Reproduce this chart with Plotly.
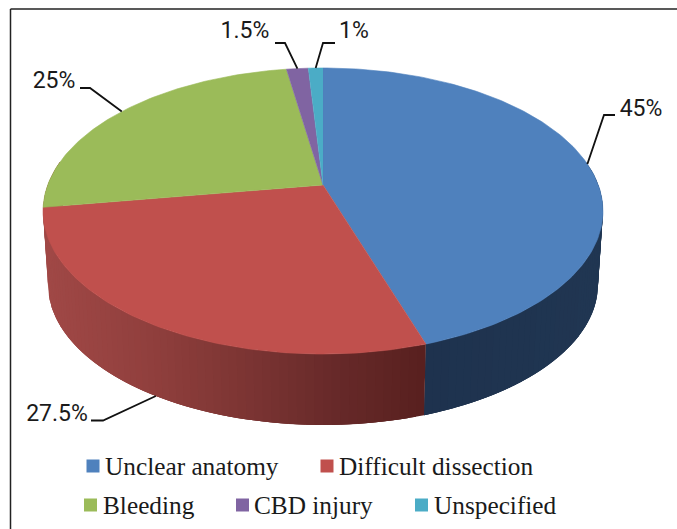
import math
import plotly.graph_objects as go

categories = ["Unclear anatomy", "Difficult dissection", "Bleeding", "CBD injury", "Unspecified"]
values = [45, 27.5, 25, 1.5, 1]
value_labels = ["45%", "27.5%", "25%", "1.5%", "1%"]
top_colors = ["#4f81bd", "#c0504d", "#9bbb59", "#8064a2", "#4bacc6"]

W, H = 677, 529
CX, APEX_Y, R, A, C = 323.0, 185.0, 275.3, 138.3, -0.1818
BASE_Y, BASE_SCALE = 259.0, 0.982


def project(deg, base=False):
    t = math.radians(deg)
    u, v = math.sin(t), -math.cos(t)
    den = 1 + C * v
    x, y = R * u / den, A * v / den
    if base:
        return CX + BASE_SCALE * x, BASE_Y + BASE_SCALE * y
    return CX + x, APEX_Y + y


def lerp_hex(stops, f):
    f = max(0.0, min(1.0, f)) * (len(stops) - 1)
    i = min(int(f), len(stops) - 2)
    g = f - i
    a, b = stops[i], stops[i + 1]
    return "rgb(%d,%d,%d)" % tuple(round(a[k] + (b[k] - a[k]) * g) for k in range(3))


def arange(a, b, step=1.0):
    n = max(2, int(abs(b - a) / step) + 1)
    return [a + (b - a) * i / (n - 1) for i in range(n)]


fig = go.Figure()


def poly(xs, ys, color, lw=0.6):
    fig.add_trace(go.Scatter(x=xs, y=ys, mode="lines", fill="toself", fillcolor=color,
                             line=dict(color=color, width=lw), hoverinfo="skip", showlegend=False))


# cumulative angles
edges = [0.0]
for val in values:
    edges.append(edges[-1] + val * 360.0 / sum(values))

# side walls: each strip overlaps the next one, which paints over it, so no seams show
red_stops = [(160, 72, 70), (146, 64, 62), (126, 54, 52), (104, 42, 42), (88, 32, 31)]
blue_stops = [(30, 50, 78), (31, 52, 80), (32, 54, 82)]
for i, (s0, s1) in enumerate(zip(edges[:-1], edges[1:])):
    lo, hi = max(s0, 80.0), min(s1, 280.0)
    if hi <= lo:
        continue
    angs = arange(lo, hi, 1.5)
    for a0, a1 in zip(angs[:-1], angs[1:]):
        a2 = min(a1 + 3.0, hi)
        strip = arange(a0, a2, 0.75)
        top = [project(a) for a in strip]
        bot = [project(a, True) for a in reversed(strip)]
        midx = (project(a0)[0] + project(a1)[0]) / 2
        if i == 0:
            col = lerp_hex(blue_stops, (midx - 424) / 180)
        else:
            col = lerp_hex(red_stops, (midx - 45) / 380)
        poly([p[0] for p in top + bot], [p[1] for p in top + bot], col, lw=0)

# top faces
for s0, s1, col in zip(edges[:-1], edges[1:], top_colors):
    pts = [project(a) for a in arange(s0, s1, 1.0)]
    poly([CX] + [p[0] for p in pts], [APEX_Y] + [p[1] for p in pts], col)

# leader lines and value labels
label_layout = [
    dict(elbow=(604, 115), end=(615, 115), text=(641, 110), base=False),
    dict(elbow=(103, 420.5), end=(91, 420.5), text=(57, 415), base=True),
    dict(elbow=(90, 88), end=(80, 88), text=(54, 82), base=False),
    dict(elbow=(285, 43), end=(275, 43), text=(245, 32), base=False),
    dict(elbow=(323, 43), end=(335, 43), text=(354, 32), base=False),
]
for s0, s1, lab, spec in zip(edges[:-1], edges[1:], value_labels, label_layout):
    sx, sy = project((s0 + s1) / 2, spec["base"])
    fig.add_trace(go.Scatter(x=[sx, spec["elbow"][0], spec["end"][0]],
                             y=[sy, spec["elbow"][1], spec["end"][1]], mode="lines",
                             line=dict(color="#111111", width=1.8), hoverinfo="skip", showlegend=False))
    fig.add_trace(go.Scatter(x=[spec["text"][0]], y=[spec["text"][1]], mode="text", text=[lab],
                             textposition="middle center",
                             textfont=dict(family="Roboto", size=23, color="#1a1a1a"),
                             hoverinfo="skip", showlegend=False))

# legend
legend_layout = [(93, 466, 105), (327, 466, 339), (90.5, 505, 103), (242.5, 505, 254), (421.5, 505, 434)]
for name, col, (mx, my, tx) in zip(categories, top_colors, legend_layout):
    fig.add_trace(go.Scatter(x=[mx], y=[my], mode="markers",
                             marker=dict(symbol="square", size=13, color=col, line=dict(width=0)),
                             hoverinfo="skip", showlegend=False))
    fig.add_trace(go.Scatter(x=[tx], y=[my + 3], mode="text", text=[name], textposition="middle right",
                             textfont=dict(family="Liberation Serif", size=25.3, color="#1a1a1a"),
                             hoverinfo="skip", showlegend=False))

# frame
fig.add_shape(type="line", x0=10.5, x1=10.5, y0=9, y1=H, xref="x", yref="y",
              line=dict(color="#222222", width=1.5))
fig.add_shape(type="line", x0=10.5, x1=W, y0=9, y1=9, xref="x", yref="y",
              line=dict(color="#222222", width=1.5))

fig.update_layout(
    width=W, height=H, margin=dict(l=0, r=0, t=0, b=0, pad=0), autosize=False,
    paper_bgcolor="white", plot_bgcolor="white", showlegend=False,
    xaxis=dict(range=[0, W], visible=False, fixedrange=True),
    yaxis=dict(range=[H, 0], visible=False, fixedrange=True),
)
fig.write_html("out.html", config=dict(displayModeBar=False),
               post_script="document.body.style.margin='0';document.body.style.overflow='hidden';")
